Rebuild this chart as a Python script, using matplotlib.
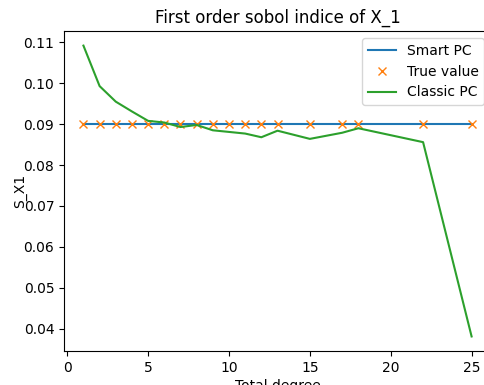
import numpy as np
import matplotlib
matplotlib.use("Agg")
import matplotlib.pyplot as plt

# Total degrees at which the indices were computed
degree = [1, 2, 3, 4, 5, 6, 7, 8, 9, 10, 11, 12, 13, 15, 17, 18, 22, 25]

# First order sobol index of X_1
true_value = [0.0900] * len(degree)
smart_pc = [0.0900] * len(degree)
classic_pc = [0.1092, 0.0993, 0.0955, 0.0931, 0.0908, 0.0904, 0.0893, 0.0898,
              0.0885, 0.0881, 0.0877, 0.0868, 0.0884, 0.0864, 0.0879, 0.0890,
              0.0856, 0.0381]

fig = plt.figure(figsize=(4.85, 3.85), dpi=100)
ax = fig.add_axes([0.132, 0.0883, 0.8804, 0.831])

ax.plot(degree, smart_pc, label='Smart PC')
ax.plot(degree, true_value, 'x', label='True value')
ax.plot(degree, classic_pc, label='Classic PC')

ax.set_title("First order sobol indice of X_1")
ax.set_xlabel("Total degree", labelpad=3)
ax.set_ylabel("S_X1", labelpad=-2.5)
ax.legend(loc='upper right')

fig.savefig("out.png", dpi=100)
